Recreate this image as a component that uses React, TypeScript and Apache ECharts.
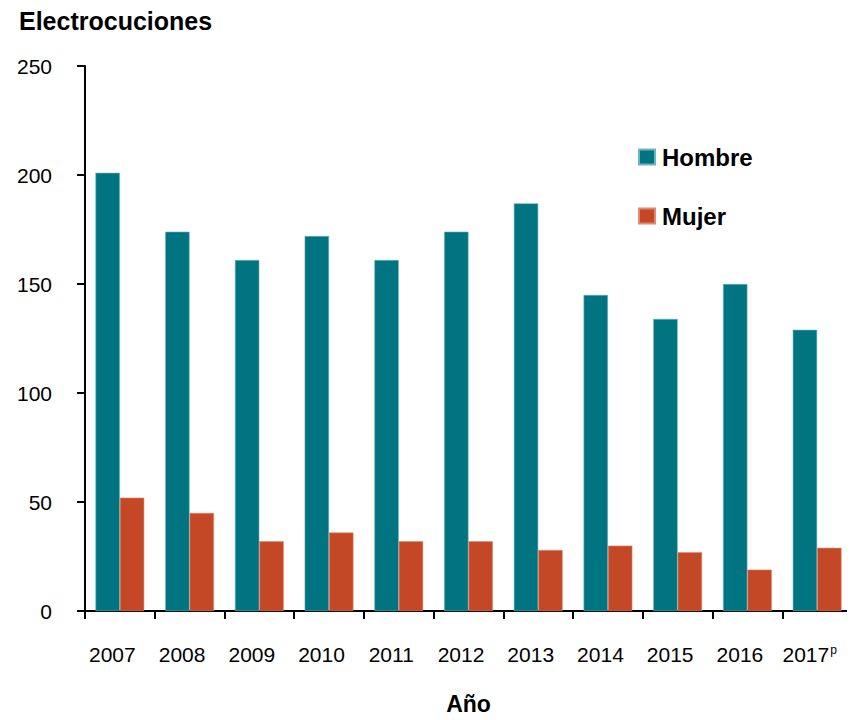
import React, { useEffect, useRef } from "react";
import * as echarts from "echarts";

const years = ["2007", "2008", "2009", "2010", "2011", "2012", "2013", "2014", "2015", "2016", "2017"];
const hombre = [201, 174, 161, 172, 161, 174, 187, 145, 134, 150, 129];
const mujer = [52, 45, 32, 36, 32, 32, 28, 30, 27, 19, 29];
const provisionalYear = "2017";

const FONT = "'Liberation Sans', Arial, Helvetica, sans-serif";

export default function App() {
  const ref = useRef<HTMLDivElement>(null);
  useEffect(() => {
    if (!ref.current) return;
    const chart = echarts.init(ref.current, null, { renderer: "svg" });
    chart.setOption({
      animation: false,
      backgroundColor: "#ffffff",
      textStyle: { fontFamily: FONT },
      title: {
        text: "Electrocuciones",
        left: 14,
        top: 3,
        textStyle: { fontFamily: FONT, fontSize: 25, fontWeight: "bold", color: "#000" },
      },
      legend: {
        orient: "vertical",
        left: 633,
        top: 140,
        itemWidth: 16,
        itemHeight: 15,
        itemGap: 35,
        icon: "rect",
        data: ["Hombre", "Mujer"],
        textStyle: {
          fontFamily: FONT,
          fontSize: 24,
          fontWeight: "bold",
          color: "#000",
          lineHeight: 24,
          padding: [0, 0, 0, 2],
        },
      },
      grid: { left: 85, right: 3, top: 66, bottom: 107, containLabel: false },
      xAxis: {
        type: "category",
        data: years,
        boundaryGap: true,
        name: "Año",
        nameLocation: "middle",
        nameGap: 81,
        nameTextStyle: { fontFamily: FONT, fontSize: 23, fontWeight: "bold", color: "#000" },
        axisLine: { show: true, lineStyle: { color: "#000", width: 2 } },
        axisTick: { show: true, interval: 0, alignWithLabel: false, length: 8, lineStyle: { color: "#000", width: 2 } },
        axisLabel: {
          interval: 0,
          margin: 33,
          fontFamily: FONT,
          fontSize: 21,
          color: "#000",
          padding: [0, 15, 0, 0],
          formatter: (v: string) => (v === provisionalYear ? `{a|${v}}{p|p}` : v),
          rich: {
            a: { fontFamily: FONT, fontSize: 21, color: "#000" },
            p: { fontFamily: FONT, fontSize: 12, color: "#000", verticalAlign: "top", padding: [0, 0, 8, 1] },
          },
        },
        splitLine: { show: false },
      },
      yAxis: {
        type: "value",
        min: 0,
        max: 250,
        interval: 50,
        axisLine: { show: true, lineStyle: { color: "#000", width: 2 } },
        axisTick: { show: true, length: 8, lineStyle: { color: "#000", width: 2 } },
        axisLabel: { margin: 33, fontFamily: FONT, fontSize: 21, color: "#000" },
        splitLine: { show: false },
      },
      series: [
        {
          name: "Hombre",
          type: "bar",
          data: hombre,
          barGap: "0%",
          barCategoryGap: "30%",
          itemStyle: { color: "#007480", borderColor: "#6fb3bb", borderWidth: 0.6 },
        },
        {
          name: "Mujer",
          type: "bar",
          data: mujer,
          barGap: "0%",
          barCategoryGap: "30%",
          itemStyle: { color: "#C44826", borderColor: "#e08a70", borderWidth: 0.6 },
        },
      ],
    });
    return () => chart.dispose();
  }, []);
  return <div ref={ref} style={{ width: 855, height: 720, margin: -8 }} />;
}
